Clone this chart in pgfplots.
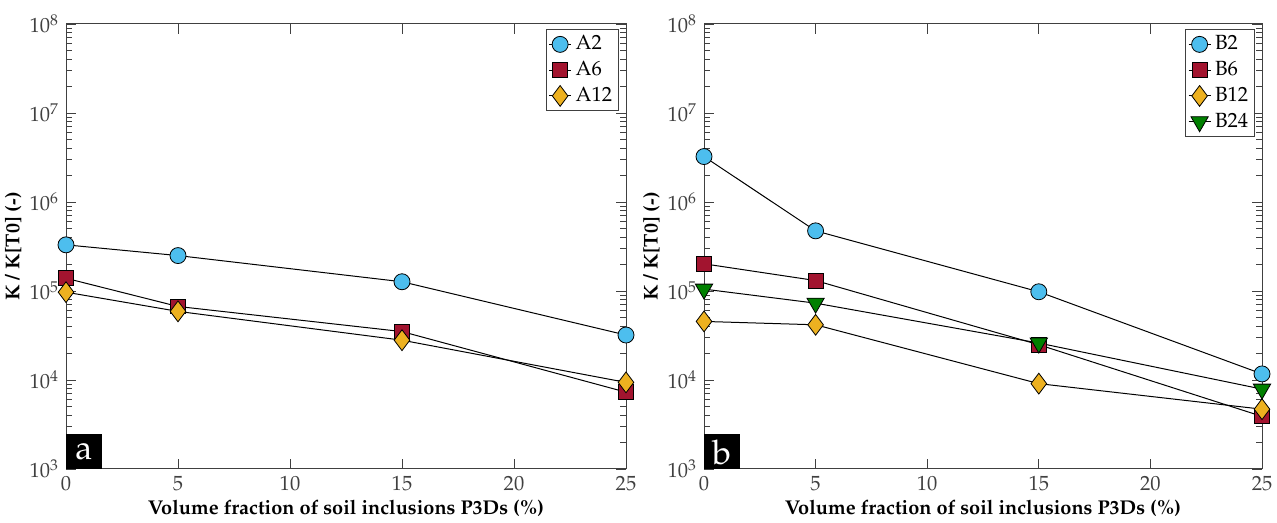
\documentclass[border=0pt]{standalone}
\usepackage[T1]{fontenc}
\usepackage{mathpazo}
\usepackage{pgfplots}
\pgfplotsset{compat=1.18}
\definecolor{mblue}{RGB}{77,190,238}
\definecolor{mred}{RGB}{162,20,47}
\definecolor{morange}{RGB}{237,177,32}
\definecolor{mgreen}{RGB}{0,128,0}
\definecolor{axgray}{gray}{0.25}
\begin{document}
\begin{tikzpicture}
\path[use as bounding box] (0,0) rectangle (638.5bp,261.5bp);
\begin{semilogyaxis}[
    at={(33bp,27bp)}, anchor=south west,
    scale only axis,
    width=280bp, height=222.5bp,
    xmin=0, xmax=25, ymin=1e3, ymax=1e8,
    xtick={0,5,10,15,20,25},
    ytick={1e3,1e4,1e5,1e6,1e7,1e8},
    tick align=inside,
    tick pos=both,
    axis line style={axgray, line width=0.5bp},
    every tick/.style={axgray, line width=0.4bp},
    major tick length=5bp, minor tick length=3bp,
    ticklabel style={font=\fontsize{10.3}{12}\selectfont, text=axgray},
    xlabel={\textbf{Volume fraction of soil inclusions P3Ds (\%)}},
    ylabel={\textbf{K / K[T0] (-)}},
    label style={font=\fontsize{10}{12}\selectfont},
    xlabel style={at={(axis description cs:0.5,-0.088)}, anchor=center},
    ylabel style={at={(axis description cs:-0.094,0.5)}, anchor=center},
    legend style={font=\fontsize{10.3}{12}\selectfont, at={(0.9875,0.989)}, anchor=north east,
      draw=axgray, line width=0.5bp, inner sep=1.2bp, row sep=0.3bp, cells={anchor=west}},
    legend image code/.code={\draw[mark repeat=2,mark phase=2] plot coordinates {(0bp,0bp) (5.5bp,0bp) (11bp,0bp)};},
]
\fill[black] (axis cs:0,1000) rectangle (axis cs:1.6,2480);
\node[text=white, font=\fontsize{17}{17}\selectfont, anchor=center] at (axis cs:0.8,1560) {a};
\addplot[black, line width=0.5bp, mark=*, mark size=4bp, mark options={solid, line width=0.4bp, draw=black, fill=mblue}] coordinates {(0,3.3e5) (5,2.5e5) (15,1.27e5) (25,3.2e4)};
\addplot[black, line width=0.5bp, mark=square*, mark size=3.7bp, mark options={solid, line width=0.4bp, draw=black, fill=mred}] coordinates {(0,1.39e5) (5,6.7e4) (15,3.5e4) (25,7.3e3)};
\addplot[black, line width=0.5bp, mark=diamond*, mark size=5.2bp, mark options={solid, line width=0.4bp, draw=black, fill=morange}] coordinates {(0,9.7e4) (5,5.9e4) (15,2.8e4) (25,9.4e3)};
\legend{A2,A6,A12}
\end{semilogyaxis}
\begin{semilogyaxis}[
    at={(352bp,27bp)}, anchor=south west,
    scale only axis,
    width=279bp, height=222.5bp,
    xmin=0, xmax=25, ymin=1e3, ymax=1e8,
    xtick={0,5,10,15,20,25},
    ytick={1e3,1e4,1e5,1e6,1e7,1e8},
    tick align=inside,
    tick pos=both,
    axis line style={axgray, line width=0.5bp},
    every tick/.style={axgray, line width=0.4bp},
    major tick length=5bp, minor tick length=3bp,
    ticklabel style={font=\fontsize{10.3}{12}\selectfont, text=axgray},
    xlabel={\textbf{Volume fraction of soil inclusions P3Ds (\%)}},
    ylabel={\textbf{K / K[T0] (-)}},
    label style={font=\fontsize{10}{12}\selectfont},
    xlabel style={at={(axis description cs:0.5,-0.088)}, anchor=center},
    ylabel style={at={(axis description cs:-0.094,0.5)}, anchor=center},
    legend style={font=\fontsize{10.3}{12}\selectfont, at={(0.9875,0.989)}, anchor=north east,
      draw=axgray, line width=0.5bp, inner sep=1.2bp, row sep=0.3bp, cells={anchor=west}},
    legend image code/.code={\draw[mark repeat=2,mark phase=2] plot coordinates {(0bp,0bp) (5.5bp,0bp) (11bp,0bp)};},
]
\fill[black] (axis cs:0,1000) rectangle (axis cs:1.6,2480);
\node[text=white, font=\fontsize{17}{17}\selectfont, anchor=center] at (axis cs:0.8,1560) {b};
\addplot[black, line width=0.5bp, mark=*, mark size=4bp, mark options={solid, line width=0.4bp, draw=black, fill=mblue}] coordinates {(0,3.24e6) (5,4.74e5) (15,9.8e4) (25,1.17e4)};
\addplot[black, line width=0.5bp, mark=square*, mark size=3.7bp, mark options={solid, line width=0.4bp, draw=black, fill=mred}] coordinates {(0,2.02e5) (5,1.31e5) (15,2.49e4) (25,3.9e3)};
\addplot[black, line width=0.5bp, mark=diamond*, mark size=5.2bp, mark options={solid, line width=0.4bp, draw=black, fill=morange}] coordinates {(0,4.55e4) (5,4.17e4) (15,9.1e3) (25,4.7e3)};
\addplot[black, line width=0.5bp, mark=triangle*, mark size=5bp, mark options={solid, line width=0.4bp, draw=black, fill=mgreen, rotate=180}] coordinates {(0,1.05e5) (5,7.3e4) (15,2.6e4) (25,7.9e3)};
\legend{B2,B6,B12,B24}
\end{semilogyaxis}
\end{tikzpicture}
\end{document}
